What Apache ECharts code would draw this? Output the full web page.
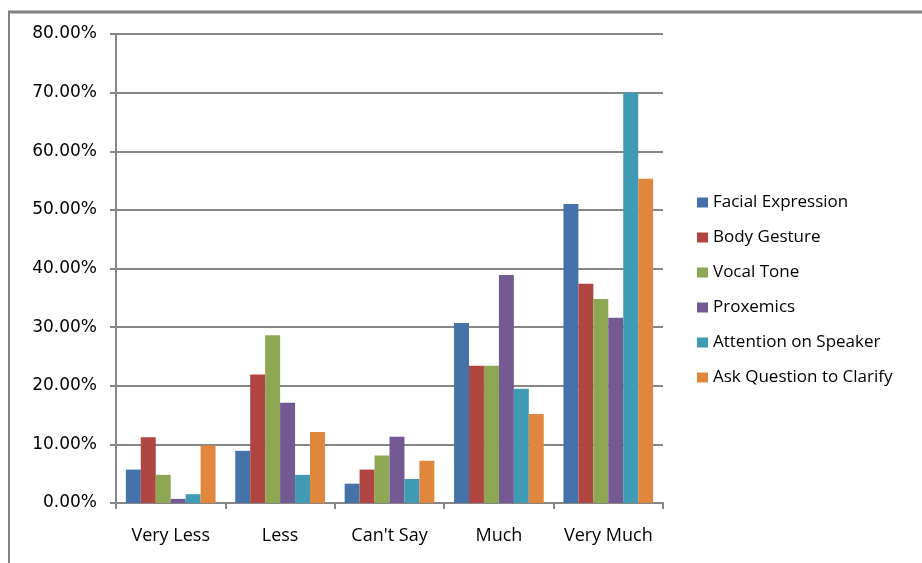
<!DOCTYPE html>
<html>
<head>
<meta charset="utf-8">
<script src="https://cdn.jsdelivr.net/npm/echarts@6/dist/echarts.min.js"></script>
<style>
  html, body { margin: 0; padding: 0; background: #ffffff; }
  #chart { width: 922px; height: 563px; }
</style>
</head>
<body>
<div id="chart"></div>
<script>
// Response categories on the x axis
const categories = ['Very Less', 'Less', "Can't Say", 'Much', 'Very Much'];

// Percentage of respondents per cue, one value per category
const facialExpression = [5.7, 8.9, 3.3, 30.7, 51.0];
const bodyGesture = [11.2, 21.9, 5.7, 23.4, 37.4];
const vocalTone = [4.8, 28.6, 8.1, 23.4, 34.8];
const proxemics = [0.7, 17.1, 11.3, 38.9, 31.6];
const attentionOnSpeaker = [1.5, 4.8, 4.1, 19.5, 70.0];
const askQuestionToClarify = [9.8, 12.1, 7.2, 15.2, 55.3];

const seriesNames = ['Facial Expression', 'Body Gesture', 'Vocal Tone', 'Proxemics',
  'Attention on Speaker', 'Ask Question to Clarify'];
const seriesData = [facialExpression, bodyGesture, vocalTone, proxemics,
  attentionOnSpeaker, askQuestionToClarify];
const colors = ['#4472A9', '#B04642', '#8DA752', '#735A93', '#3F9AB3', '#E1873D'];

const chart = echarts.init(document.getElementById('chart'), null, { renderer: 'canvas' });

chart.setOption({
  animation: false,
  backgroundColor: '#ffffff',
  color: colors,
  grid: { left: 116, right: 259, top: 34, bottom: 60, containLabel: false },
  legend: {
    orient: 'vertical',
    left: 697,
    top: 194,
    padding: 0,
    itemWidth: 11,
    itemHeight: 10,
    itemGap: 18,
    icon: 'rect',
    textStyle: { fontFamily: 'Open Sans', fontSize: 17, color: '#000' },
    data: seriesNames
  },
  xAxis: {
    type: 'category',
    data: categories,
    axisLine: { lineStyle: { color: '#868686', width: 2 } },
    axisTick: { show: true, alignWithLabel: false, interval: 0, length: 6, lineStyle: { color: '#868686', width: 2 } },
    axisLabel: { interval: 0, hideOverlap: false, fontFamily: 'Open Sans', fontSize: 18, color: '#000', margin: 24 }
  },
  yAxis: {
    type: 'value',
    min: 0,
    max: 80,
    interval: 10,
    axisLine: { show: true, lineStyle: { color: '#868686', width: 2 } },
    axisTick: { show: true, length: 6, lineStyle: { color: '#868686', width: 2 } },
    splitLine: { lineStyle: { color: '#868686', width: 2 } },
    axisLabel: {
      fontFamily: 'DejaVu Sans', fontSize: 17, color: '#000', margin: 19,
      formatter: v => v.toFixed(2) + '%'
    }
  },
  series: seriesNames.map((name, i) => ({
    name: name,
    type: 'bar',
    data: seriesData[i],
    barGap: '0%',
    barCategoryGap: '18%'
  })),
  graphic: [
    { type: 'line', shape: { x1: 8, y1: 12, x2: 922, y2: 12 }, style: { stroke: '#808080', lineWidth: 3 }, silent: true },
    { type: 'line', shape: { x1: 9, y1: 11, x2: 9, y2: 563 }, style: { stroke: '#808080', lineWidth: 2 }, silent: true }
  ]
});
</script>
</body>
</html>
